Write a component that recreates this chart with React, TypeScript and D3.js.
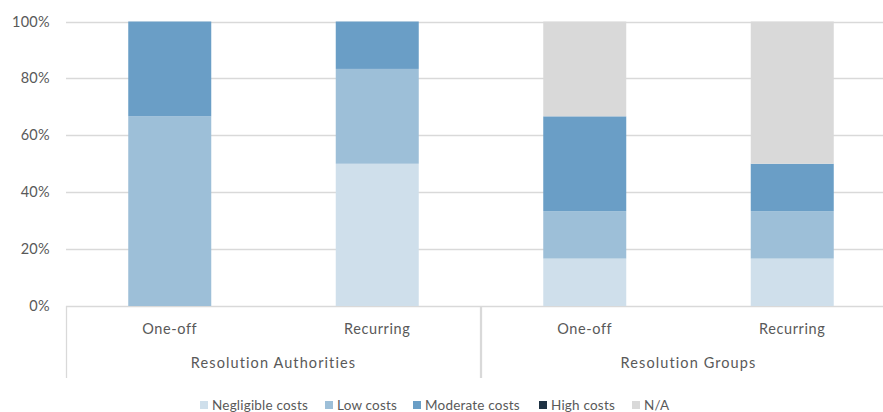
import React from "react";
import * as d3 from "d3";

const groups = ["Resolution Authorities", "Resolution Groups"];
const categories = ["One-off", "Recurring", "One-off", "Recurring"];
const categoryGroup = [0, 0, 1, 1];
const seriesNames = ["Negligible costs", "Low costs", "Moderate costs", "High costs", "N/A"];
const seriesColors = ["#cfdfeb", "#9dbfd8", "#6a9ec6", "#1f3244", "#d9d9d9"];
const negligible = [0, 50, 16.67, 16.67];
const low = [66.67, 33.33, 16.67, 16.67];
const moderate = [33.33, 16.67, 33.33, 16.67];
const high = [0, 0, 0, 0];
const na = [0, 0, 33.33, 50];
const yTicks = [0, 20, 40, 60, 80, 100];

const W = 883;
const H = 412;
const left = 66;
const right = 896;
const top = 21.5;
const bottom = 306;

export default function App() {
  const x = d3.scaleBand<number>().domain(d3.range(categories.length)).range([left, right]).paddingInner(0.6).paddingOuter(0.3);
  const xStep = d3.scaleBand<number>().domain(d3.range(categories.length)).range([left, right]);
  const y = d3.scaleLinear().domain([0, 100]).range([bottom, top]);
  const seriesData = [negligible, low, moderate, high, na];
  const rows = categories.map((c, i) => {
    const r: any = { i };
    seriesNames.forEach((s, k) => (r[s] = seriesData[k][i]));
    return r;
  });
  const stack = d3.stack<any>().keys(seriesNames)(rows);
  const font = "Lato, 'Open Sans', sans-serif";
  const textColor = "#595959";
  const groupBounds = groups.map((g, gi) => {
    const idx = categoryGroup.map((v, i) => (v === gi ? i : -1)).filter((v) => v >= 0);
    const x0 = xStep(idx[0])!;
    const x1 = xStep(idx[idx.length - 1])! + xStep.bandwidth();
    return { g, x0, x1 };
  });
  const legendX = [200, 325, 413, 539, 632];
  return (
    <svg width={W} height={H} style={{ position: "absolute", left: 0, top: 0, background: "#fff" }}>
      {yTicks.map((t) => (
        <g key={t}>
          <line x1={left} x2={right} y1={Math.round(y(t)) + 0.5} y2={Math.round(y(t)) + 0.5} stroke="#d9d9d9" strokeWidth={1.3} />
          <text x={50} y={y(t)} dy="0.35em" textAnchor="end" fontFamily={font} fontSize={14.5} fill={textColor} letterSpacing={0.3}>
            {t}%
          </text>
        </g>
      ))}
      {stack.map((layer, k) =>
        layer.map((d, i) =>
          d[1] - d[0] > 0 ? (
            <rect key={k + "-" + i} x={x(i)} width={x.bandwidth()} y={y(d[1])} height={y(d[0]) - y(d[1])} fill={seriesColors[k]} />
          ) : null
        )
      )}
      {categories.map((c, i) => (
        <text key={i} x={x(i)! + x.bandwidth() / 2} y={329} dy="0.35em" textAnchor="middle" fontFamily={font} fontSize={14.5} fill={textColor} letterSpacing={0.6}>
          {c}
        </text>
      ))}
      {groupBounds.map((b, gi) => (
        <g key={gi}>
          <line x1={Math.round(b.x0) + 0.5} x2={Math.round(b.x0) + 0.5} y1={bottom} y2={378} stroke="#d9d9d9" strokeWidth={1.3} />
          <line x1={Math.round(b.x1) - 0.5} x2={Math.round(b.x1) - 0.5} y1={bottom} y2={378} stroke="#d9d9d9" strokeWidth={1.3} />
          <text x={(b.x0 + b.x1) / 2} y={363} dy="0.35em" textAnchor="middle" fontFamily={font} fontSize={14.5} fill={textColor} letterSpacing={1.1}>
            {b.g}
          </text>
        </g>
      ))}
      {seriesNames.map((s, k) => (
        <g key={s} transform={`translate(${legendX[k]},405)`}>
          <rect x={0} y={-4} width={8} height={8} fill={seriesColors[k]} />
          <text x={12} y={0} dy="0.35em" fontFamily={font} fontSize={13.5} fill={textColor} letterSpacing={0.2}>
            {s}
          </text>
        </g>
      ))}
    </svg>
  );
}
